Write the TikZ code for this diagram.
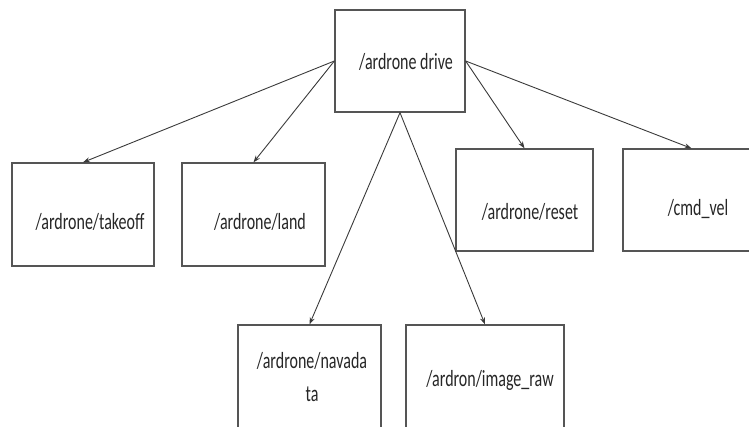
\documentclass[tikz,border=0pt]{standalone}
\usepackage{fontspec}
\setmainfont{Carlito}
\usetikzlibrary{arrows.meta}
\definecolor{boxgray}{HTML}{555555}
\definecolor{linegray}{HTML}{3A3A3A}
\newcommand{\tallt}[1]{\scalebox{1}[1.45]{#1}}
\begin{document}
\begin{tikzpicture}[x=1pt,y=-1pt,
  box/.style={draw=boxgray, line width=1.3pt, inner sep=0pt, rectangle},
  lbl/.style={inner sep=0pt, font=\fontsize{16}{22.7}\selectfont, text=black!85},
  link/.style={draw=linegray, line width=0.9pt, -{Stealth[length=7pt,width=5pt]}}]
\useasboundingbox (0,0) rectangle (749,426);
\clip (0,0) rectangle (749,426);

\node[box, minimum width=130pt, minimum height=102pt] (drive) at (400,61) {};
\node[box, minimum width=142pt, minimum height=103pt] (takeoff) at (83,214.5) {};
\node[box, minimum width=143pt, minimum height=103pt] (land) at (253.5,214.5) {};
\node[box, minimum width=137pt, minimum height=102pt] (reset) at (524.5,200) {};
\node[box, minimum width=137pt, minimum height=102pt] (cmdvel) at (691.5,200) {};
\node[box, minimum width=143pt, minimum height=120pt] (navdata) at (309.5,385) {};
\node[box, minimum width=158pt, minimum height=120pt] (imgraw) at (485,385) {};

\node[lbl] (tdrive) at (406,62) {\tallt{/ardrone drive}};
\node[lbl] (ttakeoff) at (90,222) {\tallt{/ardrone/takeoff}};
\node[lbl] (tland) at (260,222) {\tallt{/ardrone/land}};
\node[lbl] (treset) at (530,212) {\tallt{/ardrone/reset}};
\node[lbl] (tcmdvel) at (698,209) {\tallt{/cmd\_vel}};
\node[lbl] (tnavdata) at (312,378) {\tallt{\begin{tabular}{@{}c@{}}/ardrone/navada\\ta\end{tabular}}};
\node[lbl] (timgraw) at (490,380) {\tallt{/ardron/image\_raw}};

\draw[link] (drive.west) -- (takeoff.north);
\draw[link] (drive.west) -- (land.north);
\draw[link] (drive.south) -- (navdata.north);
\draw[link] (drive.south) -- (imgraw.north);
\draw[link] (drive.east) -- (reset.north);
\draw[link] (drive.east) -- (cmdvel.north);
\end{tikzpicture}
\end{document}
